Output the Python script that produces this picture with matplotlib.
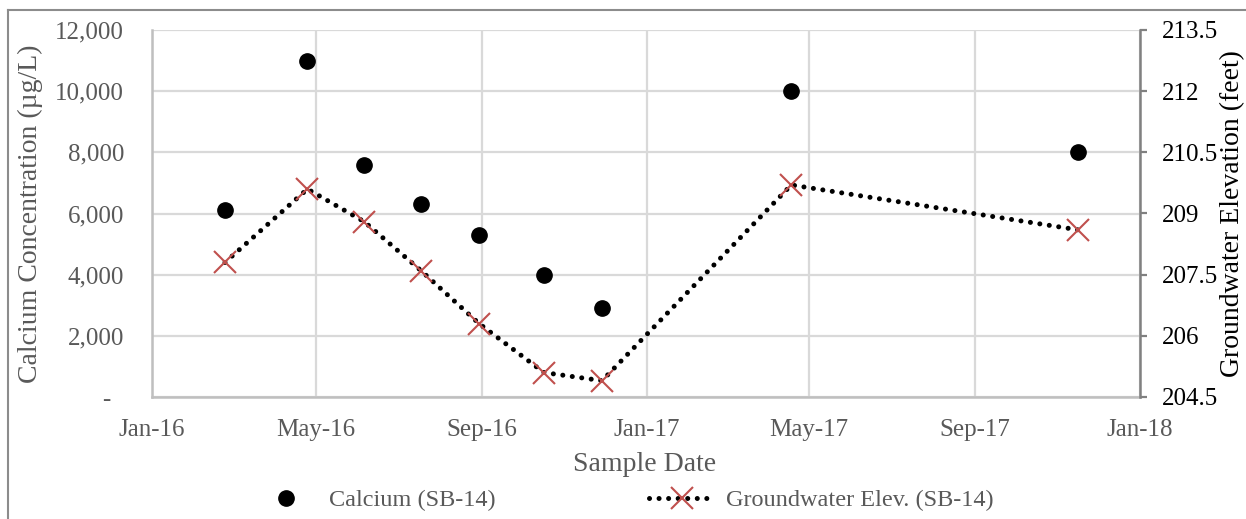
import numpy as np
import pandas as pd
import matplotlib
matplotlib.use("Agg")
import matplotlib.pyplot as plt
import matplotlib.dates as mdates
from matplotlib.lines import Line2D
from matplotlib.ticker import FuncFormatter, MultipleLocator

# Sample data
sample_dates = ["2016-02-24", "2016-04-25", "2016-06-06", "2016-07-18", "2016-08-30",
                "2016-10-17", "2016-11-29", "2017-04-18", "2017-11-16"]
calcium = [6100, 11000, 7600, 6300, 5300, 4000, 2900, 10000, 8000]
gw_elev = [207.8, 209.6, 208.8, 207.6, 206.3, 205.1, 204.9, 209.7, 208.6]

calcium_label = "Calcium (SB-14)"
gw_label = "Groundwater Elev. (SB-14)"
gw_ticks = [204.5, 206, 207.5, 209, 210.5, 212, 213.5]

GRAY_TXT = "#595959"
GRID = "#d9d9d9"

plt.rcParams["font.family"] = ["Liberation Serif", "DejaVu Serif"]


def main():
    dates = pd.to_datetime(sample_dates)

    fig = plt.figure(figsize=(12.46, 5.19), dpi=100)
    ax1 = fig.add_axes([152 / 1246, 1 - 397 / 519, 988 / 1246, 367 / 519])
    ax2 = ax1.twinx()

    # calcium on left axis
    ax1.plot(dates, calcium, linestyle="none", marker="o", markersize=11,
             color="black", label=calcium_label, zorder=3)
    ax1.set_ylim(0, 12000)
    ax1.yaxis.set_major_locator(MultipleLocator(2000))
    ax1.yaxis.set_major_formatter(FuncFormatter(
        lambda v, p: "-  " if v == 0 else f"{int(v):,}"))
    ax1.set_xlim(pd.Timestamp("2016-01-01"), pd.Timestamp("2018-01-01"))
    ax1.xaxis.set_major_locator(mdates.MonthLocator(bymonth=[1, 5, 9]))
    ax1.xaxis.set_major_formatter(mdates.DateFormatter("%b-%y"))
    ax1.grid(True, color=GRID, linewidth=1.6)
    ax1.set_axisbelow(True)
    ax1.tick_params(axis="y", length=0, pad=20, labelsize=18, labelcolor=GRAY_TXT)
    ax1.tick_params(axis="x", length=0, pad=16, labelsize=18, labelcolor=GRAY_TXT)

    for side in ["top", "right"]:
        ax1.spines[side].set_visible(False)
    for side in ["left", "bottom"]:
        ax1.spines[side].set_color("#bfbfbf")
        ax1.spines[side].set_linewidth(1.8)

    ax1.set_xlabel("Sample Date", fontsize=20, color=GRAY_TXT)
    ax1.xaxis.label.set_va("center")
    ax1.xaxis.set_label_coords(0.499, -0.185)
    ax1.set_ylabel("Calcium Concentration (µg/L)", fontsize=20, color=GRAY_TXT)
    ax1.yaxis.label.set_va("center")
    ax1.yaxis.set_label_coords(-0.1235, 0.5)

    # groundwater on right axis
    ax2.plot(dates, gw_elev, color="black", linestyle=(0, (0.01, 1.9)),
             linewidth=3.6, dash_capstyle="round", marker="x", markersize=16,
             markeredgewidth=1.5, markeredgecolor="#c0504d", label=gw_label)
    ax2.set_ylim(gw_ticks[0], gw_ticks[-1])
    ax2.set_yticks(gw_ticks)
    ax2.yaxis.set_major_formatter(FuncFormatter(lambda v, p: f"{v:g}"))
    ax2.tick_params(axis="y", length=5, width=1.6, color="#808080", pad=11,
                    labelsize=18, labelcolor="black")
    for side in ["top", "left", "bottom"]:
        ax2.spines[side].set_visible(False)
    ax2.spines["right"].set_color("#808080")
    ax2.spines["right"].set_linewidth(1.8)
    ax2.set_ylabel("Groundwater Elevation (feet)", fontsize=20, color="black",
                   rotation=90)
    ax2.yaxis.label.set_va("center")
    ax2.yaxis.set_label_coords(1.094, 0.5)

    # legend along the bottom
    h1, l1 = ax1.get_legend_handles_labels()
    h2, l2 = ax2.get_legend_handles_labels()
    leg = fig.legend(h1 + h2, l1 + l2, ncol=2, frameon=False, fontsize=17.5,
                     loc="center", bbox_to_anchor=(0.5, 1 - 500 / 519),
                     handlelength=2.7, handletextpad=0.45, columnspacing=6.3,
                     numpoints=1)
    for t in leg.get_texts():
        t.set_color(GRAY_TXT)

    # outer chart frame (cropped on right and bottom)
    fig.add_artist(Line2D([8 / 1246, 8 / 1246], [0, 1 - 10 / 519],
                          transform=fig.transFigure, color="#8c8c8c", linewidth=1.5))
    fig.add_artist(Line2D([8 / 1246, 1], [1 - 10 / 519, 1 - 10 / 519],
                          transform=fig.transFigure, color="#8c8c8c", linewidth=1.5))

    fig.savefig("out.png", dpi=100)


if __name__ == "__main__":
    main()
